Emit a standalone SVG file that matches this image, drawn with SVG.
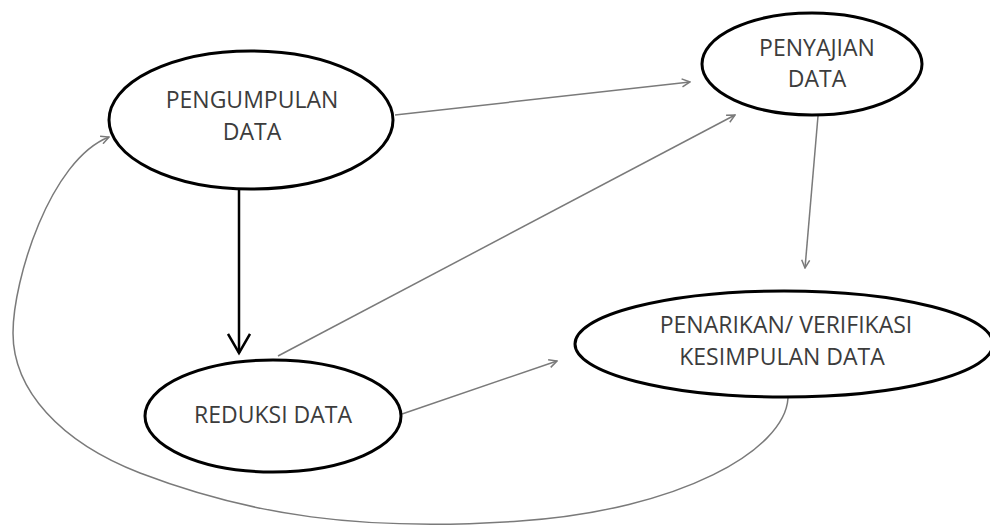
<svg xmlns="http://www.w3.org/2000/svg" width="990" height="526" viewBox="0 0 990 526">
<defs>
<style>
.node ellipse{fill:#fff;stroke:#000;stroke-width:3}
.node text{font-family:"Open Sans","Liberation Sans",sans-serif;font-size:23px;fill:#3c3c3c;text-anchor:middle}
.thin{fill:none;stroke:#7a7a7a;stroke-width:1.5;marker-end:url(#ag)}
.thick{fill:none;stroke:#000;stroke-width:2.5;marker-end:url(#ab)}
</style>
<marker id="ag" viewBox="0 0 10 10" refX="9" refY="5" markerWidth="10" markerHeight="10" markerUnits="userSpaceOnUse" orient="auto">
<path d="M1,1 L9,5 L1,9" fill="none" stroke="#7a7a7a" stroke-width="1.5"/>
</marker>
<marker id="ab" viewBox="0 0 24 24" refX="21" refY="12" markerWidth="24" markerHeight="24" markerUnits="userSpaceOnUse" orient="auto">
<path d="M2,1 L21,12 L2,23" fill="none" stroke="#000" stroke-width="2.5"/>
</marker>
</defs>
<rect width="990" height="526" fill="#fff"/>
<g id="connectors">
<path class="thin" d="M395,115 L690,82"/>
<path class="thin" d="M278,356 L735,115"/>
<path class="thin" d="M402,414 L557,361"/>
<path class="thin" d="M818,116 L805,268"/>
<path class="thick" d="M239,190 L239,353"/>
<path class="thin" d="M788,398 C785,450 680,510 520,521 C360,532 250,515 140,473 C60,442 13,390 13,333 C13,280 50,160 109,137"/>
</g>
<g id="pengumpulan" class="node">
<ellipse cx="251" cy="120" rx="142" ry="69"/>
<text x="252" y="108">PENGUMPULAN</text>
<text x="252" y="140">DATA</text>
</g>
<g id="penyajian" class="node">
<ellipse cx="812" cy="64" rx="110" ry="51"/>
<text x="817" y="56">PENYAJIAN</text>
<text x="817" y="87">DATA</text>
</g>
<g id="penarikan" class="node">
<ellipse cx="784" cy="344" rx="209" ry="53"/>
<text x="786" y="333">PENARIKAN/ VERIFIKASI</text>
<text x="782" y="365">KESIMPULAN DATA</text>
</g>
<g id="reduksi" class="node">
<ellipse cx="273" cy="416" rx="128" ry="56"/>
<text x="273" y="423">REDUKSI DATA</text>
</g>
</svg>
